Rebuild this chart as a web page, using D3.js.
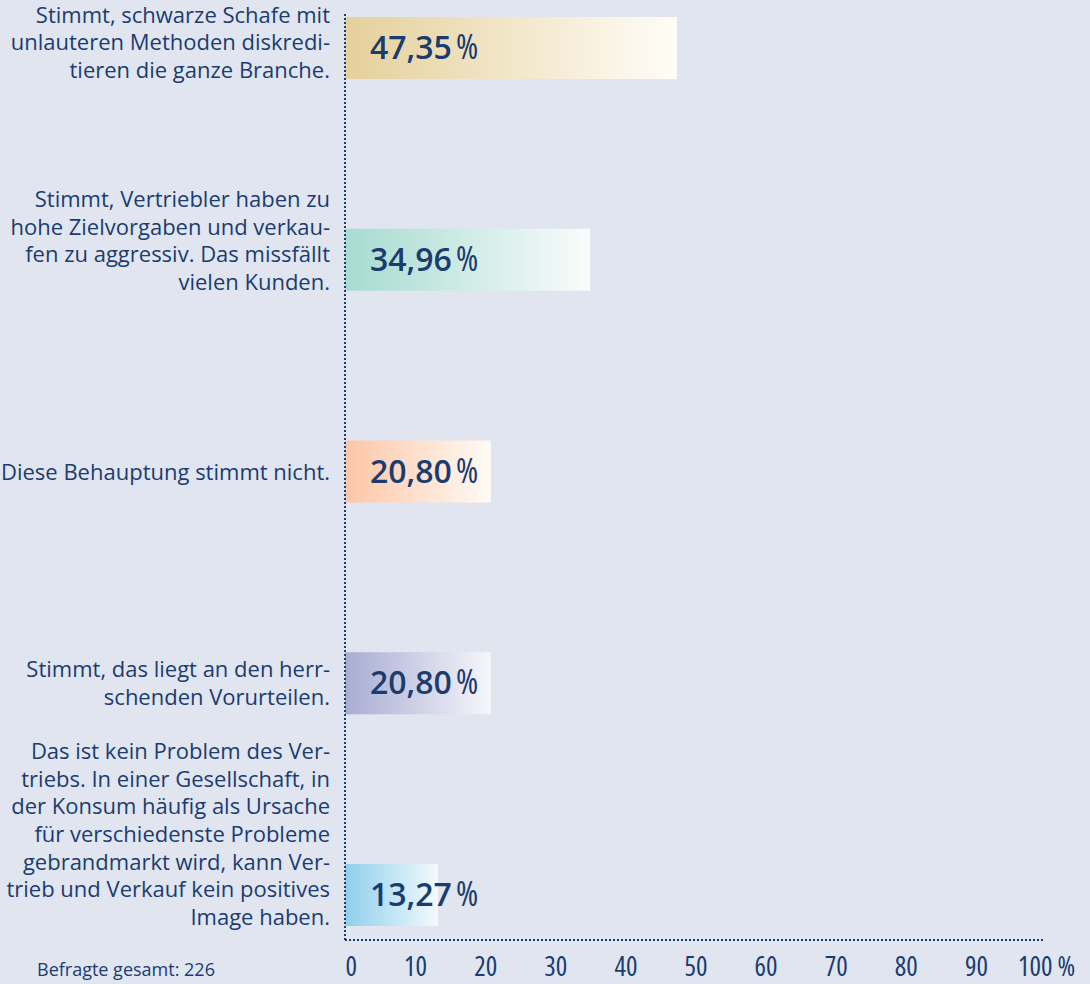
<!DOCTYPE html>
<html>
<head>
<meta charset="utf-8">
<script src="https://cdn.jsdelivr.net/npm/d3@7"></script>
<style>
  html, body { margin: 0; padding: 0; background: #e0e5ef; }
  svg { display: block; }
  text { font-family: "Open Sans", sans-serif; }
</style>
</head>
<body>
<svg id="chart" width="1090" height="984"></svg>
<script>
// ---- data ----
const categories = ["schafe", "vertriebler", "nicht", "vorurteile", "konsum"];
const labelLines = [
  ["Stimmt, schwarze Schafe mit", "unlauteren Methoden diskredi-", "tieren die ganze Branche."],
  ["Stimmt, Vertriebler haben zu", "hohe Zielvorgaben und verkau-", "fen zu aggressiv. Das missfällt", "vielen Kunden."],
  ["Diese Behauptung stimmt nicht."],
  ["Stimmt, das liegt an den herr-", "schenden Vorurteilen."],
  ["Das ist kein Problem des Ver-", "triebs. In einer Gesellschaft, in", "der Konsum häufig als Ursache", "für verschiedenste Probleme", "gebrandmarkt wird, kann Ver-", "trieb und Verkauf kein positives", "Image haben."]
];
const values = [47.35, 34.96, 20.80, 20.80, 13.27];
const tickValues = [0, 10, 20, 30, 40, 50, 60, 70, 80, 90, 100];
const footnote = "Befragte gesamt: 226";

// ---- styles ----
const palette = [
  ["#e5d09b", "#fffdf8"],
  ["#a7dbd1", "#f9fcfb"],
  ["#fcc6a6", "#fffaf6"],
  ["#a8acd2", "#f6f6fb"],
  ["#8ecfeb", "#f3fafd"]
];
const navy = "#1b3c6f";

const svg = d3.select("#chart");
const x = d3.scaleLinear().domain([0, 100]).range([345, 1046]);
const y = d3.scaleBand().domain(categories).range([17, 926]).paddingInner(0.707).paddingOuter(0);

const de = d3.formatLocale({decimal: ",", thousands: ".", grouping: [3], currency: ["", " €"]});
const fmt = de.format(".2f");

// gradients
const defs = svg.append("defs");
palette.forEach((p, i) => {
  const g = defs.append("linearGradient").attr("id", "grad" + i)
    .attr("x1", "0%").attr("x2", "100%").attr("y1", "0%").attr("y2", "0%");
  g.append("stop").attr("offset", "0%").attr("stop-color", p[0]);
  g.append("stop").attr("offset", "100%").attr("stop-color", p[1]);
});

// bars
svg.append("g").selectAll("rect").data(values).join("rect")
  .attr("x", x(0))
  .attr("y", (d, i) => y(categories[i]))
  .attr("width", d => x(d) - x(0))
  .attr("height", y.bandwidth())
  .attr("fill", (d, i) => `url(#grad${i})`);

// value labels
const vl = svg.append("g").selectAll("text").data(values).join("text")
  .attr("x", x(0) + 25)
  .attr("y", (d, i) => y(categories[i]) + y.bandwidth() / 2 + 11)
  .attr("fill", navy)
  .style("font-size", "32px");
vl.append("tspan").attr("font-weight", 600).text(d => fmt(d));
vl.append("tspan").attr("dx", 4).attr("font-weight", 400).style("font-stretch", "condensed").style("font-size", "34px").text("%");

// category labels
const lineH = 27.7;
const lg = svg.append("g");
labelLines.forEach((lines, i) => {
  const top0 = y(categories[i]);
  const center = top0 + y.bandwidth() / 2;
  const h = lines.length * lineH;
  let bottom = Math.min(center + h / 2, top0 + y.bandwidth() + 5);
  const top = bottom - h;
  lg.append("text")
    .attr("text-anchor", "end")
    .attr("fill", navy)
    .style("font-size", "22px")
    .selectAll("tspan").data(lines).join("tspan")
    .attr("x", 330)
    .attr("y", (d, k) => top + lineH * (k + 0.5) + 8)
    .text(d => d);
});

// dotted axes
svg.append("line")
  .attr("x1", x(0)).attr("x2", x(0)).attr("y1", 14).attr("y2", 941)
  .attr("stroke", navy).attr("stroke-width", 2).attr("stroke-dasharray", "2,2");
svg.append("line")
  .attr("x1", x(0)).attr("x2", 1043).attr("y1", 940).attr("y2", 940)
  .attr("stroke", navy).attr("stroke-width", 2).attr("stroke-dasharray", "2,2");

// x axis tick labels
const axis = d3.axisBottom(x).tickValues(tickValues).tickSize(0)
  .tickFormat(d => d === 100 ? "100 %" : String(d));
const ag = svg.append("g").attr("transform", "translate(0,940)").call(axis);
ag.select(".domain").remove();
ag.selectAll("text")
  .attr("y", 36).attr("dy", 0)
  .attr("fill", navy)
  .style("font-family", "'Open Sans', sans-serif")
  .style("font-size", "27px")
  .style("font-stretch", "condensed");
ag.selectAll(".tick").filter(d => d === 0).select("text").attr("text-anchor", "start");

// footnote
svg.append("text")
  .attr("x", 37).attr("y", 976)
  .attr("fill", navy)
  .style("font-size", "18px")
  .text(footnote);
</script>
</body>
</html>
